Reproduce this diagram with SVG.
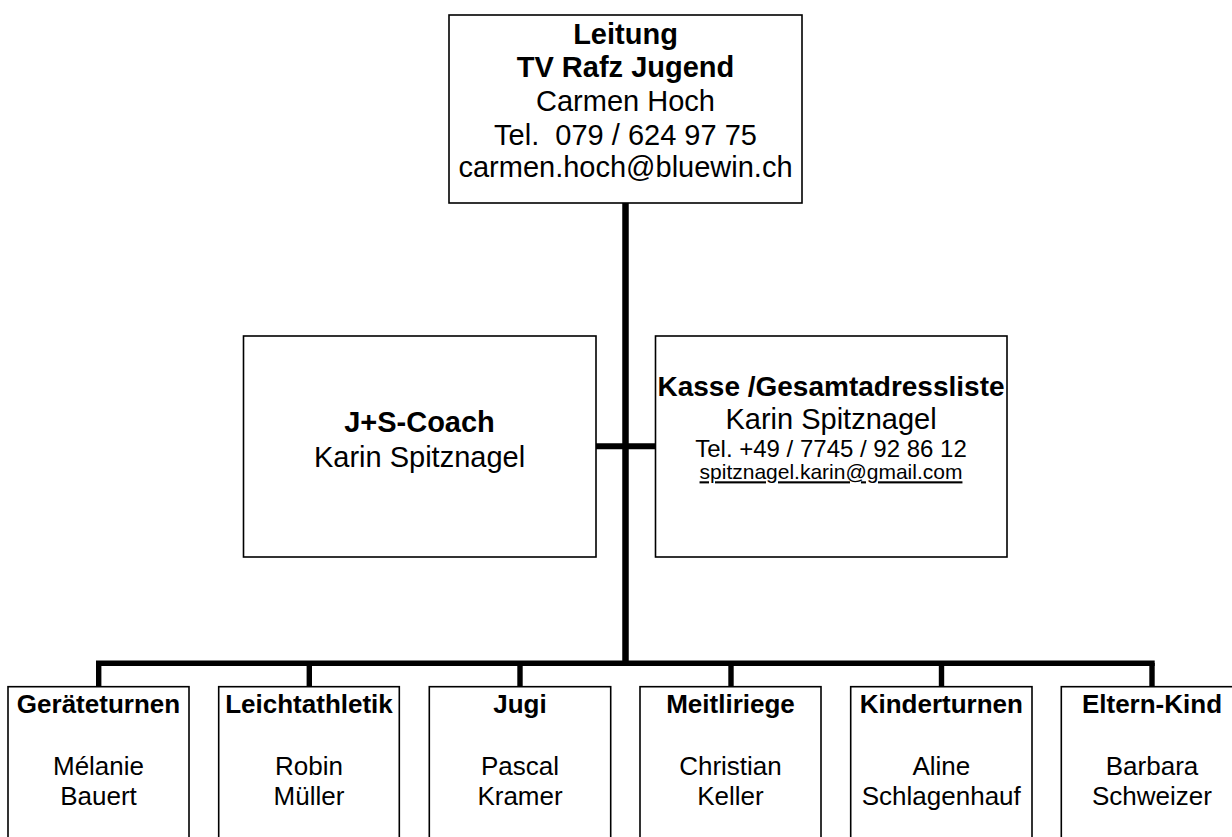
<svg xmlns="http://www.w3.org/2000/svg" width="1232" height="837" viewBox="0 0 1232 837">
<style>
.box{fill:#fff;stroke:#000;stroke-width:1.6}
.conn{stroke:#000;fill:none;stroke-linecap:butt}
text{font-family:"Liberation Sans",Arial,Helvetica,sans-serif;fill:#000;text-anchor:middle}
.b{font-weight:bold}
.t29{font-size:29px}
.t28{font-size:28px}
.t26{font-size:26px}
.t24{font-size:24px}
.t21{font-size:21px}
</style>
<rect width="1232" height="837" fill="#fff"/>
<g id="connectors">
<line class="conn" x1="625.5" y1="203" x2="625.5" y2="666" stroke-width="6.5"/>
<line class="conn" x1="596" y1="446.3" x2="655" y2="446.3" stroke-width="6"/>
<line class="conn" x1="96" y1="663.3" x2="1154.7" y2="663.3" stroke-width="5.4"/>
<line class="conn" x1="98.7" y1="663" x2="98.7" y2="687" stroke-width="5.4"/>
<line class="conn" x1="309.3" y1="663" x2="309.3" y2="687" stroke-width="5.4"/>
<line class="conn" x1="520" y1="663" x2="520" y2="687" stroke-width="5.4"/>
<line class="conn" x1="731" y1="663" x2="731" y2="687" stroke-width="5.4"/>
<line class="conn" x1="941.5" y1="663" x2="941.5" y2="687" stroke-width="5.4"/>
<line class="conn" x1="1152" y1="663" x2="1152" y2="687" stroke-width="5.4"/>
</g>
<g id="leitung">
<rect class="box" x="449" y="15" width="353" height="188"/>
<text class="b t29" x="625.5" y="44">Leitung</text>
<text class="b t29" x="625.5" y="77">TV Rafz Jugend</text>
<text class="t29" x="625.5" y="111">Carmen Hoch</text>
<text class="t29" x="625.5" y="145" xml:space="preserve">Tel.  079 / 624 97 75</text>
<text class="t29" x="625.5" y="177">carmen.hoch@bluewin.ch</text>
</g>
<g id="js-coach">
<rect class="box" x="243.5" y="336" width="352.5" height="221"/>
<text class="b t29" x="419.5" y="431.7">J+S-Coach</text>
<text class="t29" x="419.5" y="466.7">Karin Spitznagel</text>
</g>
<g id="kasse">
<rect class="box" x="655.5" y="336" width="351.5" height="221"/>
<text class="b t28" x="831" y="396">Kasse /Gesamtadressliste</text>
<text class="t29" x="831" y="429.3">Karin Spitznagel</text>
<text class="t24" x="831" y="456.7">Tel. +49 / 7745 / 92 86 12</text>
<text class="t21" x="831" y="479.3" text-decoration="underline">spitznagel.karin@gmail.com</text>
</g>
<g id="geraeteturnen">
<rect class="box" x="8" y="686.7" width="181" height="170"/>
<text class="b t26" x="98.5" y="712.7">Geräteturnen</text>
<text class="t26" x="98.5" y="775">Mélanie</text>
<text class="t26" x="98.5" y="805">Bauert</text>
</g>
<g id="leichtathletik">
<rect class="box" x="218.7" y="686.7" width="180.6" height="170"/>
<text class="b t26" x="309" y="712.7">Leichtathletik</text>
<text class="t26" x="309" y="775">Robin</text>
<text class="t26" x="309" y="805">Müller</text>
</g>
<g id="jugi">
<rect class="box" x="429.3" y="686.7" width="181.4" height="170"/>
<text class="b t26" x="520" y="712.7">Jugi</text>
<text class="t26" x="520" y="775">Pascal</text>
<text class="t26" x="520" y="805">Kramer</text>
</g>
<g id="meitliriege">
<rect class="box" x="640" y="686.7" width="181" height="170"/>
<text class="b t26" x="730.5" y="712.7">Meitliriege</text>
<text class="t26" x="730.5" y="775">Christian</text>
<text class="t26" x="730.5" y="805">Keller</text>
</g>
<g id="kinderturnen">
<rect class="box" x="850.7" y="686.7" width="181.3" height="170"/>
<text class="b t26" x="941.3" y="712.7">Kinderturnen</text>
<text class="t26" x="941.3" y="775">Aline</text>
<text class="t26" x="941.3" y="805">Schlagenhauf</text>
</g>
<g id="eltern-kind">
<rect class="box" x="1061.3" y="686.7" width="181.4" height="170"/>
<text class="b t26" x="1152" y="712.7">Eltern-Kind</text>
<text class="t26" x="1152" y="775">Barbara</text>
<text class="t26" x="1152" y="805">Schweizer</text>
</g>
</svg>
